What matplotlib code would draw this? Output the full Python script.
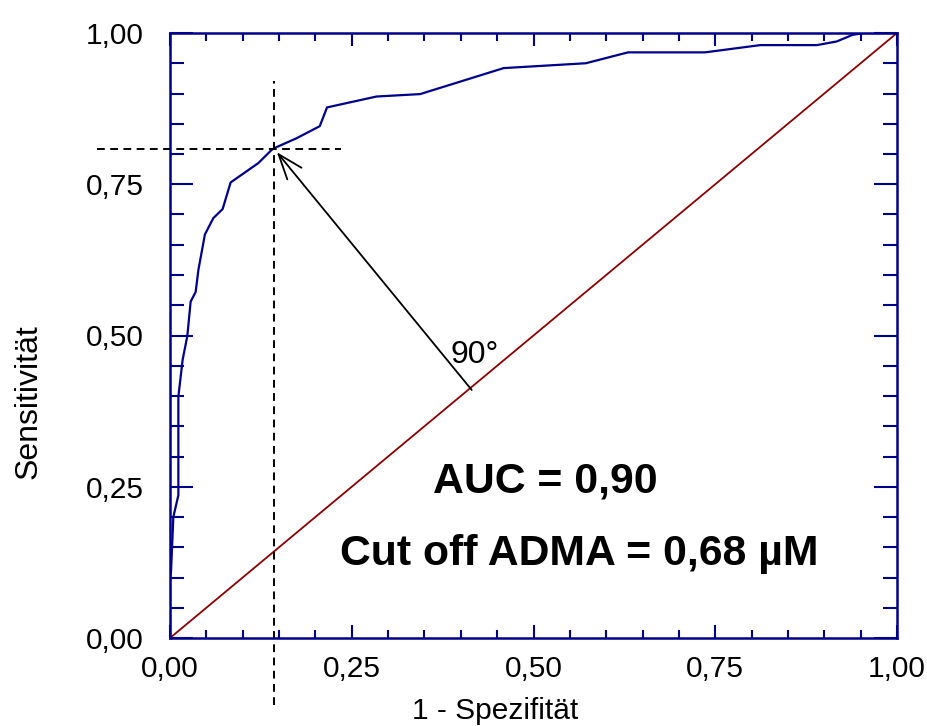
import numpy as np
import matplotlib
matplotlib.use('Agg')
import matplotlib.pyplot as plt

plt.rcParams['font.family'] = ['Liberation Sans', 'DejaVu Sans']

# ROC curve
fpr = [0.0, 0.0, 0.0014, 0.0046, 0.0115, 0.0115, 0.0174, 0.0238, 0.0284, 0.0353,
       0.039, 0.048, 0.0596, 0.0724, 0.0834, 0.1215, 0.140, 0.144, 0.174, 0.206,
       0.216, 0.284, 0.344, 0.459, 0.572, 0.630, 0.736, 0.812, 0.890, 0.917,
       0.939, 0.955, 1.0]
tpr = [0.0, 0.10, 0.110, 0.200, 0.236, 0.399, 0.460, 0.499, 0.556, 0.572,
       0.608, 0.667, 0.694, 0.709, 0.753, 0.785, 0.807, 0.810, 0.826, 0.846,
       0.877, 0.895, 0.899, 0.942, 0.950, 0.968, 0.968, 0.980, 0.980, 0.986,
       0.997, 1.0, 1.0]

cut_x = 0.143
cut_y = 0.808
arrow_tail = (0.415, 0.41)
arrow_tip = (0.147, 0.803)

ticks = [0.0, 0.25, 0.5, 0.75, 1.0]
tick_labels = ['0,00', '0,25', '0,50', '0,75', '1,00']
auc_text = 'AUC = 0,90'
cutoff_text = 'Cut off ADMA = 0,68 µM'

navy = '#00008B'
dred = '#8B0000'

fig = plt.figure(figsize=(9.27, 7.26), dpi=100)
ax = fig.add_axes([170/927, 1-638/726, 727/927, 605/726])

ax.plot([0, 1], [0, 1], color=dred, lw=1.3)
ax.plot(fpr, tpr, color=navy, lw=1.6)

# dashed cut-off lines, running past the frame
ax.plot([cut_x, cut_x], [-0.111, 0.92], color='black', lw=1.4,
        linestyle=(0, (4, 2.8)), clip_on=False)
ax.plot([-0.10, 0.235], [cut_y, cut_y], color='black', lw=1.4,
        linestyle=(0, (4, 2.8)), clip_on=False)

ax.annotate('', xy=arrow_tip, xytext=arrow_tail,
            arrowprops=dict(arrowstyle='->,head_length=0.9,head_width=0.33',
                            color='black', lw=1.3, mutation_scale=20,
                            shrinkA=0, shrinkB=0))
ax.text(0.419, 0.4545, '90°', fontsize=23, ha='center', va='baseline')

ax.text(0.5165, 0.2397, auc_text, fontsize=30.8, fontweight='bold',
        ha='center', va='baseline')
ax.text(0.5626, 0.1207, cutoff_text, fontsize=30.8, fontweight='bold',
        ha='center', va='baseline')

ax.set_xlim(0, 1)
ax.set_ylim(0, 1)
ax.set_xticks(ticks)
ax.set_xticklabels(tick_labels)
ax.set_yticks(ticks)
ax.set_yticklabels(tick_labels)
ax.set_xticks(np.arange(0, 1.001, 0.05), minor=True)
ax.set_yticks(np.arange(0, 1.001, 0.05), minor=True)

for s in ax.spines.values():
    s.set_color(navy)
    s.set_linewidth(1.8)

ax.tick_params(axis='both', which='both', direction='in', color=navy,
               width=1.5, labelsize=21.5, top=True, right=True)
ax.tick_params(axis='x', which='major', length=9.5, pad=12)
ax.tick_params(axis='x', which='minor', length=5.5)
ax.tick_params(axis='y', which='major', length=16.5, pad=19)
ax.tick_params(axis='y', which='minor', length=10)

ax.set_xlabel('1 - Spezifität', fontsize=21.5, va='center')
ax.xaxis.set_label_coords(0.447, -0.121)
ax.set_ylabel('Sensitivität', fontsize=23, va='center')
ax.yaxis.set_label_coords(-0.195, 0.39)

fig.savefig('out.png', dpi=100)
